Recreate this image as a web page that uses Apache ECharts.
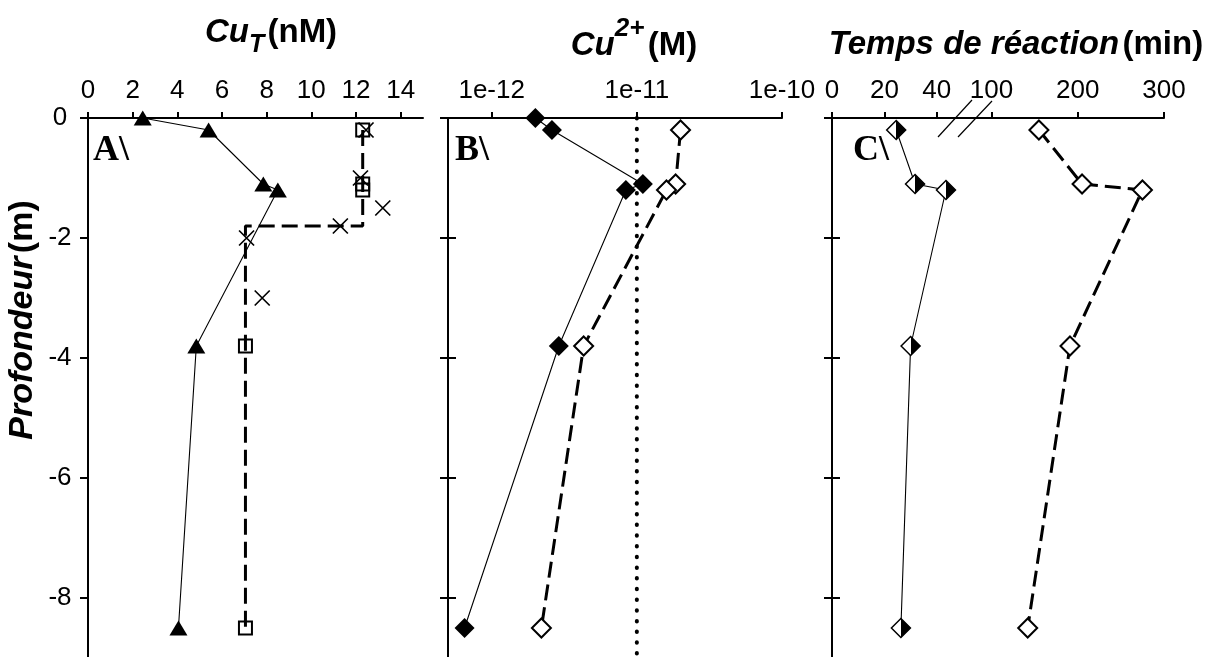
<!DOCTYPE html>
<html><head><meta charset="utf-8">
<script src="https://cdn.jsdelivr.net/npm/echarts@6/dist/echarts.min.js"></script>
<style>html,body{margin:0;padding:0;background:#fff}#c{width:1211px;height:657px}</style>
</head><body><div id="c"></div>
<script>
// ---------- DATA ----------
// Panel A : Cu_T (nM) versus depth (m)
const triA_x   = [2.45, 5.4, 7.85, 8.5, 4.85, 4.05];
const triA_y   = [0, -0.2, -1.1, -1.2, -3.8, -8.5];
const sqA_x    = [12.3, 12.3, 12.3, 7.05, 7.05];
const sqA_y    = [-0.2, -1.1, -1.2, -3.8, -8.5];
const stepA_x  = [12.3, 12.3, 7.05, 7.05];
const stepA_y  = [-0.2, -1.8, -1.8, -8.5];
const crossA_x = [12.45, 12.2, 13.2, 11.3, 7.1, 7.8];
const crossA_y = [-0.2, -1.0, -1.5, -1.8, -2.0, -3.0];
// Panel B : Cu2+ (M) versus depth
const fillB_x = [2.0e-12, 2.6e-12, 1.1e-11, 8.4e-12, 2.9e-12, 6.5e-13];
const fillB_y = [0, -0.2, -1.1, -1.2, -3.8, -8.5];
const openB_x = [2.0e-11, 1.85e-11, 1.6e-11, 4.3e-12, 2.2e-12];
const openB_y = [-0.2, -1.1, -1.2, -3.8, -8.5];
const refB_x  = [1e-11, 1e-11];
const refB_y  = [0, -10];
// Panel C : reaction time (min) versus depth
const halfC_x = [24.5, 31.7, 43.5, 30, 26.3];
const halfC_y = [-0.2, -1.1, -1.2, -3.8, -8.5];
const openC_x = [155, 205, 275, 191, 142];
const openC_y = [-0.2, -1.1, -1.2, -3.8, -8.5];
// Tick values / labels
const ticksA  = [0, 2, 4, 6, 8, 10, 12, 14];
const ticksB  = [1e-12, 1e-11, 1e-10];
const labelsB = ['1e-12', '1e-11', '1e-10'];
const ticksC1 = [0, 20, 40];
const ticksC2 = [100, 200, 300];

// ---------- HELPERS ----------
const zip = (xs, ys) => xs.map((x, i) => [x, ys[i]]);
const F = 'Liberation Sans, Arial, sans-serif';
const K = '#000';
const TOP = 118, H = 600;
const G = {
  A:  {left: 88,  width: 335},
  B:  {left: 448, width: 334},
  C1: {left: 832, width: 131},
  C2: {left: 963, width: 201}
};
const grids = ['A','B','C1','C2'].map(k => ({left: G[k].left, width: G[k].width, top: TOP, height: H,
  containLabel: false, outerBoundsMode: 'none'}));

function xAx(gi, type, min, max, ticks, fmt) {
  const o = {
    gridIndex: gi, type: type, position: 'top', min: min, max: max,
    axisLine: {show: true, onZero: false, lineStyle: {color: K, width: 2}},
    axisTick: {show: true, inside: false, length: 6, lineStyle: {color: K, width: 2}, customValues: ticks},
    axisLabel: {show: true, color: K, fontFamily: F, fontSize: 26, margin: 14, customValues: ticks},
    splitLine: {show: false}
  };
  if (type === 'log') o.logBase = 10;
  if (fmt) o.axisLabel.formatter = fmt;
  return o;
}
function yAx(gi, opts) {
  return Object.assign({
    gridIndex: gi, type: 'value', min: -10, max: 0, interval: 2, position: 'left',
    axisLine: {show: true, onZero: false, lineStyle: {color: K, width: 2}},
    axisTick: {show: true, inside: false, length: 8, lineStyle: {color: K, width: 2}},
    axisLabel: {show: false},
    splitLine: {show: false}
  }, opts);
}

const xAxes = [
  xAx(0, 'value', 0, 15, ticksA),
  xAx(1, 'log', 5e-13, 1e-10, ticksB, v => labelsB[ticksB.findIndex(t => Math.abs(Math.log10(t) - Math.log10(v)) < 1e-6)] || ''),
  xAx(2, 'value', 0, 50, ticksC1),
  xAx(3, 'value', 67, 300, ticksC2)
];

const yAxes = [
  yAx(0, {axisLabel: {show: true, color: K, fontFamily: F, fontSize: 26, align: 'center', margin: 28}}),
  yAx(1, {}),
  yAx(1, {axisLine: {show: false}, axisTick: {show: true, inside: true, length: 8, lineStyle: {color: K, width: 2}}}),
  yAx(2, {}),
  yAx(2, {axisLine: {show: false}, axisTick: {show: true, inside: true, length: 8, lineStyle: {color: K, width: 2}}}),
  yAx(3, {show: false})
];

const dashed = {color: K, width: 3, type: [16, 7]};
const thin = {color: K, width: 1.1, type: 'solid'};
const dotted = {color: K, width: 4, type: [0.5, 10.2], cap: 'round'};
const halfFill = new echarts.graphic.LinearGradient(0, 0, 1, 0, [
  {offset: 0, color: '#fff'}, {offset: 0.5, color: '#fff'},
  {offset: 0.5, color: '#000'}, {offset: 1, color: '#000'}
]);

const series = [
  // Panel A
  {type: 'line', xAxisIndex: 0, yAxisIndex: 0, data: zip(stepA_x, stepA_y), showSymbol: false, symbol: 'none', lineStyle: dashed, z: 2},
  {type: 'line', xAxisIndex: 0, yAxisIndex: 0, data: zip(triA_x, triA_y), symbol: 'triangle', symbolSize: [18, 15],
   itemStyle: {color: K, opacity: 1}, lineStyle: thin, z: 3},
  {type: 'scatter', xAxisIndex: 0, yAxisIndex: 0, data: zip(sqA_x, sqA_y), symbol: 'rect', symbolSize: 13,
   itemStyle: {color: 'rgba(255,255,255,0)', borderColor: K, borderWidth: 2, opacity: 1}, z: 4},
  {type: 'scatter', xAxisIndex: 0, yAxisIndex: 0, data: zip(crossA_x, crossA_y), symbol: 'path://M0,0L10,10M10,0L0,10', symbolSize: 15,
   itemStyle: {color: 'rgba(0,0,0,0)', borderColor: K, borderWidth: 1.7, opacity: 1}, z: 5},
  // Panel B
  {type: 'line', xAxisIndex: 1, yAxisIndex: 1, data: zip(refB_x, refB_y), showSymbol: false, symbol: 'none', lineStyle: dotted, z: 2},
  {type: 'line', xAxisIndex: 1, yAxisIndex: 1, data: zip(openB_x, openB_y), symbol: 'diamond', symbolSize: 19,
   itemStyle: {color: '#fff', borderColor: K, borderWidth: 2}, lineStyle: dashed, z: 3},
  {type: 'line', xAxisIndex: 1, yAxisIndex: 1, data: zip(fillB_x, fillB_y), symbol: 'diamond', symbolSize: 20,
   itemStyle: {color: K}, lineStyle: thin, z: 4},
  // Panel C
  {type: 'line', xAxisIndex: 2, yAxisIndex: 3, data: zip(halfC_x, halfC_y), symbol: 'diamond', symbolSize: 19,
   itemStyle: {color: halfFill, borderColor: K, borderWidth: 1.5}, lineStyle: thin, z: 3},
  {type: 'line', xAxisIndex: 3, yAxisIndex: 5, data: zip(openC_x, openC_y), symbol: 'diamond', symbolSize: 19,
   itemStyle: {color: '#fff', borderColor: K, borderWidth: 2}, lineStyle: dashed, z: 3}
];

// ---------- TEXT / DECORATION ----------
const bold = {fontFamily: F, fontWeight: 'bold', fontSize: 33, color: K};
const boldIt = Object.assign({}, bold, {fontStyle: 'italic'});
const serifB = 'bold 36px "Liberation Serif", "Times New Roman", serif';
const X_BREAK = G.C1.left + G.C1.width;
const graphic = [
  {type: 'text', x: 271, y: 33, style: {text: '{i|Cu}{sub|T} {b|(nM)}', align: 'center', verticalAlign: 'middle',
    rich: {i: boldIt, b: bold, sub: Object.assign({}, boldIt, {fontSize: 25, padding: [24, 0, 0, 0]})}}},
  {type: 'text', x: 634, y: 46, style: {text: '{i|Cu}{sup|2+} {b|(M)}', align: 'center', verticalAlign: 'middle',
    rich: {i: boldIt, b: bold, sup: Object.assign({}, boldIt, {fontSize: 26, padding: [0, 0, 34, 0]})}}},
  {type: 'text', x: 1016, y: 45, style: {text: '{i|Temps de réaction} {b|(min)}', align: 'center', verticalAlign: 'middle',
    rich: {i: boldIt, b: bold}}},
  {type: 'text', x: 23, y: 320, rotation: Math.PI / 2, style: {text: '{i|Profondeur} {b|(m)}', align: 'center', verticalAlign: 'middle',
    rich: {i: Object.assign({}, boldIt, {fontSize: 34}), b: Object.assign({}, bold, {fontSize: 34})}}},
  {type: 'text', x: 93, y: 151, style: {text: 'A\\', font: serifB, fill: K, align: 'left', verticalAlign: 'middle'}},
  {type: 'text', x: 455, y: 151, style: {text: 'B\\', font: serifB, fill: K, align: 'left', verticalAlign: 'middle'}},
  {type: 'text', x: 853, y: 151, style: {text: 'C\\', font: serifB, fill: K, align: 'left', verticalAlign: 'middle'}},
  {type: 'line', shape: {x1: X_BREAK - 25, y1: 137, x2: X_BREAK + 9, y2: 100}, style: {stroke: K, lineWidth: 1.2}, z: 10},
  {type: 'line', shape: {x1: X_BREAK - 5, y1: 137, x2: X_BREAK + 29, y2: 101}, style: {stroke: K, lineWidth: 1.2}, z: 10}
];

const chart = echarts.init(document.getElementById('c'), null, {renderer: 'canvas'});
chart.setOption({
  animation: false,
  backgroundColor: '#fff',
  grid: grids,
  xAxis: xAxes,
  yAxis: yAxes,
  series: series,
  graphic: graphic
});
</script></body></html>
